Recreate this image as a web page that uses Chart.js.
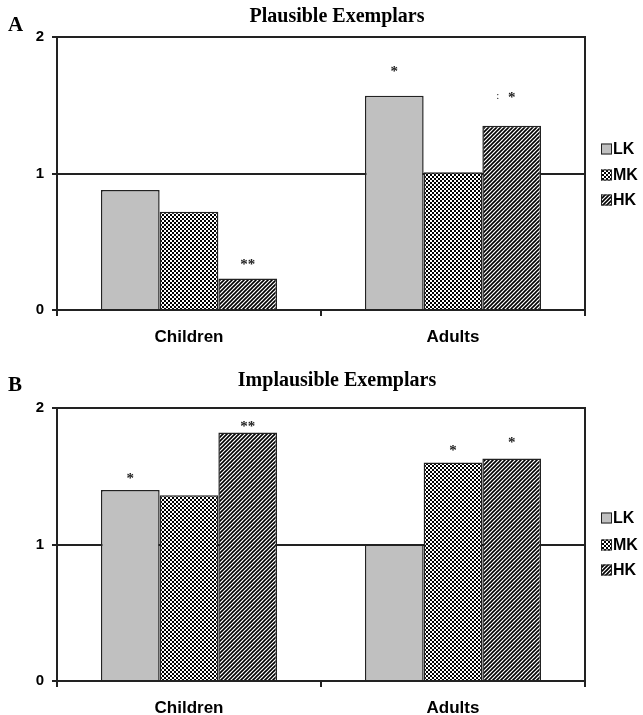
<!DOCTYPE html>
<html>
<head>
<meta charset="utf-8">
<script src="https://cdn.jsdelivr.net/npm/chart.js@4.4.1/dist/chart.umd.min.js"></script>
<style>
  html, body { margin: 0; padding: 0; background: #fff; }
  #wrap { position: relative; width: 643px; height: 715px; }
  .panel { position: absolute; left: 0; width: 643px; }
</style>
</head>
<body>
<div id="wrap">
  <div class="panel" style="top:0;height:357px"><canvas id="chartA"></canvas></div>
  <div class="panel" style="top:357px;height:358px"><canvas id="chartB"></canvas></div>
</div>
<script>
// categories and series
const groups = ['Children', 'Adults'];
const seriesNames = ['LK', 'MK', 'HK'];

// A - plausible exemplars
const plausibleLK = [0.88, 1.57];
const plausibleMK = [0.72, 1.01];
const plausibleHK = [0.23, 1.35];
const plausibleStars = [['', '*'], ['', ''], ['**', ': *']];
const plausibleStarY = [[null, 1.76], [null, null], [0.34, 1.57]];

// B - implausible exemplars
const implausibleLK = [1.40, 1.00];
const implausibleMK = [1.36, 1.60];
const implausibleHK = [1.82, 1.63];
const implausibleStars = [['*', ''], ['', '*'], ['**', '*']];
const implausibleStarY = [[1.49, null], [null, 1.70], [1.875, 1.76]];

// fill patterns
function checkerPattern() {
  const c = document.createElement('canvas');
  c.width = 4; c.height = 4;
  const g = c.getContext('2d');
  g.fillStyle = '#fff'; g.fillRect(0, 0, 4, 4);
  g.fillStyle = '#000'; g.fillRect(0, 0, 2, 2); g.fillRect(2, 2, 2, 2);
  return g.createPattern(c, 'repeat');
}
function stripePattern() {
  const c = document.createElement('canvas');
  c.width = 4; c.height = 4;
  const g = c.getContext('2d');
  g.fillStyle = '#fff'; g.fillRect(0, 0, 4, 4);
  g.strokeStyle = '#000'; g.lineWidth = 1.6;
  g.beginPath();
  g.moveTo(-1, 5); g.lineTo(5, -1);
  g.moveTo(-1, 1); g.lineTo(1, -1);
  g.moveTo(3, 5); g.lineTo(5, 3);
  g.stroke();
  return g.createPattern(c, 'repeat');
}
const fills = ['#c0c0c0', checkerPattern(), stripePattern()];

// frame, stars, legend, title
const decor = {
  id: 'decor',
  afterDatasetsDraw(chart, args, o) {
    const { ctx, chartArea: a } = chart;
    ctx.save();
    ctx.strokeStyle = '#222';
    ctx.lineWidth = 2;
    ctx.beginPath();
    ctx.moveTo(a.left, a.top);
    ctx.lineTo(a.right, a.top);
    ctx.lineTo(a.right, a.bottom);
    ctx.stroke();

    // significance marks
    ctx.fillStyle = '#222';
    ctx.font = 'bold 15px "Liberation Serif"';
    ctx.textAlign = 'center';
    ctx.textBaseline = 'middle';
    o.stars.forEach((row, i) => {
      const meta = chart.getDatasetMeta(i);
      row.forEach((s, j) => {
        if (!s) return;
        const x = meta.data[j].x;
        const y = chart.scales.y.getPixelForValue(o.starY[i][j]) + 2;
        if (s.startsWith(':')) {
          ctx.font = '11px "Liberation Serif"';
          ctx.fillText(':', x - 14, y - 2);
          ctx.font = 'bold 15px "Liberation Serif"';
          ctx.fillText(s.slice(1).trim(), x, y);
        } else {
          ctx.fillText(s, x, y);
        }
      });
    });

    // legend
    ctx.font = 'bold 16px Arial';
    ctx.textAlign = 'left';
    chart.data.datasets.forEach((ds, i) => {
      const cy = o.legendY[i];
      ctx.fillStyle = ds.backgroundColor;
      ctx.fillRect(601, cy - 5.5, 11, 11);
      ctx.lineWidth = 1;
      ctx.strokeStyle = '#222';
      ctx.strokeRect(601.5, cy - 5, 10, 10);
      ctx.fillStyle = '#000';
      ctx.fillText(ds.label, 613, cy + 1);
    });

    // title and panel letter
    ctx.fillStyle = '#000';
    ctx.textAlign = 'center';
    ctx.font = 'bold 20px "Liberation Serif"';
    ctx.fillText(o.title, 337, o.titleY);
    ctx.textAlign = 'left';
    ctx.font = 'bold 21px "Liberation Serif"';
    ctx.fillText(o.letter, 8, o.letterY);
    ctx.restore();
  }
};

function makeChart(id, lk, mk, hk, extra, topPad, xHeight) {
  const values = [lk, mk, hk];
  return new Chart(document.getElementById(id), {
    type: 'bar',
    data: {
      labels: groups,
      datasets: seriesNames.map((name, i) => ({
        label: name,
        data: values[i],
        backgroundColor: fills[i],
        borderColor: '#222',
        borderWidth: 1.5,
        categoryPercentage: 0.667,
        barPercentage: 1.0
      }))
    },
    options: {
      responsive: true,
      maintainAspectRatio: false,
      animation: false,
      layout: { padding: { left: 0, right: 58, top: topPad, bottom: 0 } },
      plugins: {
        legend: { display: false },
        tooltip: { enabled: false },
        decor: extra
      },
      scales: {
        x: {
          offset: true,
          grid: { offset: true, drawOnChartArea: false, tickLength: 6, tickColor: '#222', lineWidth: 2 },
          border: { color: '#222', width: 2 },
          ticks: { color: '#000', font: { family: 'Arial', size: 17, weight: 'bold' }, padding: 11 },
          afterFit: s => { s.height = xHeight; }
        },
        y: {
          min: 0,
          max: 2,
          ticks: { stepSize: 1, color: '#000', font: { family: 'Arial', size: 15, weight: 'bold' }, padding: 8 },
          grid: {
            color: c => (c.tick && c.tick.value === 1 ? '#222' : 'rgba(0,0,0,0)'),
            lineWidth: 2,
            tickLength: 5,
            tickColor: '#222'
          },
          border: { color: '#222', width: 2 },
          afterFit: s => { s.width = 57; }
        }
      }
    },
    plugins: [decor]
  });
}

makeChart('chartA', plausibleLK, plausibleMK, plausibleHK, {
  title: 'Plausible Exemplars', titleY: 17, letter: 'A', letterY: 26,
  stars: plausibleStars, starY: plausibleStarY, legendY: [149, 175, 200]
}, 37, 47);

makeChart('chartB', implausibleLK, implausibleMK, implausibleHK, {
  title: 'Implausible Exemplars', titleY: 24, letter: 'B', letterY: 29,
  stars: implausibleStars, starY: implausibleStarY, legendY: [161, 188, 213]
}, 51, 34);
</script>
</body>
</html>
